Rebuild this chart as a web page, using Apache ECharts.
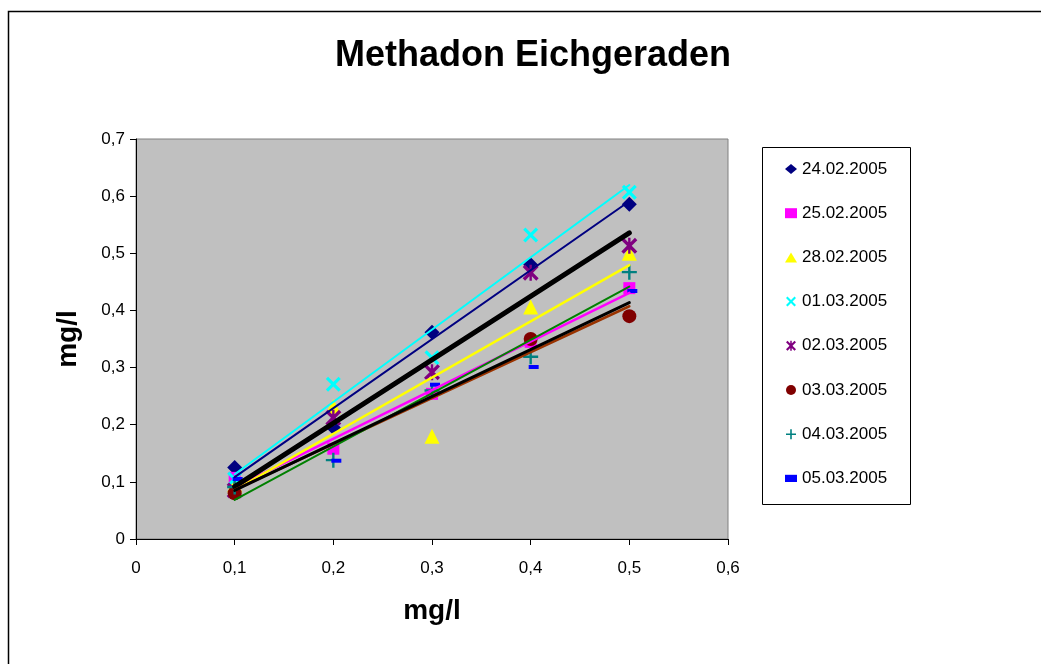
<!DOCTYPE html>
<html>
<head>
<meta charset="utf-8">
<script src="https://cdn.jsdelivr.net/npm/echarts@6/dist/echarts.min.js"></script>
<style>
  html, body { margin: 0; padding: 0; background: #ffffff; }
  #chart { width: 1041px; height: 664px; }
</style>
</head>
<body>
<div id="chart"></div>
<script>
// Concentrations of the calibration standards (mg/l)
const concentrations = [0.1, 0.2, 0.3, 0.4, 0.5];

// Measured values (mg/l) per calibration day; null = no measurement
const seriesNames = ['24.02.2005', '25.02.2005', '28.02.2005', '01.03.2005',
                     '02.03.2005', '03.03.2005', '04.03.2005', '05.03.2005'];
const day240205 = [0.125, 0.195, 0.362, 0.480, 0.586];
const day250205 = [0.107, 0.158, 0.254, 0.345, 0.439];
const day280205 = [0.095, 0.232, 0.180, 0.406, 0.500];
const day010305 = [0.105, 0.271, 0.317, 0.532, 0.607];
const day020305 = [0.085, 0.212, 0.292, 0.466, 0.513];
const day030305 = [0.080, null, null, 0.350, 0.390];
const day040305 = [0.091, 0.138, 0.260, 0.319, 0.467];
const day050305 = [0.105, 0.137, 0.270, 0.301, 0.434];
const measurements = [day240205, day250205, day280205, day010305,
                      day020305, day030305, day040305, day050305];

// Axis tick labels (decimal comma)
const xTickLabels = ['0', '0,1', '0,2', '0,3', '0,4', '0,5', '0,6'];
const yTickLabels = ['0', '0,1', '0,2', '0,3', '0,4', '0,5', '0,6', '0,7'];

const FONT = "'Liberation Sans', Arial, sans-serif";

// Marker shapes
const X_PATH = 'path://M0,1.5L1.5,0L5,3.5L8.5,0L10,1.5L6.5,5L10,8.5L8.5,10L5,6.5L1.5,10L0,8.5L3.5,5Z';
const STAR_PATH = 'path://M0,1.5L1.5,0L5,3.5L8.5,0L10,1.5L6.5,5L10,8.5L8.5,10L5,6.5L1.5,10L0,8.5L3.5,5Z' +
                  'M4.25,0L5.75,0L5.75,10L4.25,10Z';
const PLUS_PATH = 'path://M4.2,0H5.8V4.2H10V5.8H5.8V10H4.2V5.8H0V4.2H4.2Z';
const DASH_PATH = 'path://M0,0H10V4H0Z';

const markerStyles = [
  { symbol: 'diamond',  size: 15, color: '#000080' },
  { symbol: 'rect',     size: 12, color: '#ff00ff' },
  { symbol: 'triangle', size: 15, color: '#ffff00' },
  { symbol: X_PATH,     size: 15, color: '#00ffff' },
  { symbol: STAR_PATH,  size: 16, color: '#800080' },
  { symbol: 'circle',   size: 14, color: '#800000' },
  { symbol: PLUS_PATH,  size: 15, color: '#008080' },
  { symbol: DASH_PATH,  size: [10, 4], color: '#0000ff', offset: [3, 0] }
];

// Linear trend line of every day
const trendStyles = [
  { color: '#000080', width: 2 },
  { color: '#ff00ff', width: 2.5 },
  { color: '#ffff00', width: 2.5 },
  { color: '#00ffff', width: 2 },
  { color: '#000000', width: 5 },
  { color: '#993300', width: 2.5 },
  { color: '#008000', width: 2 },
  { color: '#000000', width: 3 }
];

// Least-squares line through the available points
function linearFit(xs, ys) {
  const pts = xs.map((x, i) => [x, ys[i]]).filter(p => p[1] !== null);
  const n = pts.length;
  const mx = pts.reduce((a, p) => a + p[0], 0) / n;
  const my = pts.reduce((a, p) => a + p[1], 0) / n;
  let sxy = 0, sxx = 0;
  pts.forEach(p => {
    sxy += (p[0] - mx) * (p[1] - my);
    sxx += (p[0] - mx) * (p[0] - mx);
  });
  const slope = sxy / sxx;
  return { slope: slope, intercept: my - slope * mx };
}

const scatterSeries = measurements.map((ys, i) => {
  const m = markerStyles[i];
  return {
    name: seriesNames[i],
    type: 'scatter',
    symbol: m.symbol,
    symbolSize: m.size,
    symbolOffset: m.offset || [0, 0],
    symbolKeepAspect: false,
    itemStyle: { color: m.color, opacity: 1 },
    z: 2,
    data: concentrations
      .map((x, k) => [x, ys[k]])
      .filter(p => p[1] !== null)
  };
});

const trendSeries = measurements.map((ys, i) => {
  const f = linearFit(concentrations, ys);
  const x0 = concentrations[0];
  const x1 = concentrations[concentrations.length - 1];
  return {
    name: 'Trend ' + seriesNames[i],
    type: 'line',
    symbol: 'none',
    silent: true,
    z: 3,
    lineStyle: { color: trendStyles[i].color, width: trendStyles[i].width, cap: 'round' },
    data: [[x0, f.intercept + f.slope * x0], [x1, f.intercept + f.slope * x1]]
  };
});

const legendIcons = markerStyles.map(m => (m.symbol === DASH_PATH ? 'path://M0,0H10V6H0Z' : m.symbol));

const chart = echarts.init(document.getElementById('chart'), null, { renderer: 'canvas' });

chart.setOption({
  animation: false,
  backgroundColor: '#ffffff',
  textStyle: { fontFamily: FONT },
  title: {
    text: 'Methadon Eichgeraden',
    left: 330,
    top: 33,
    textStyle: { fontFamily: FONT, fontSize: 36, fontWeight: 'bold', color: '#000000' }
  },
  grid: {
    left: 136, right: 313, top: 139, bottom: 125,
    show: true,
    backgroundColor: '#c0c0c0',
    borderColor: '#808080',
    borderWidth: 1
  },
  xAxis: {
    type: 'value',
    min: 0, max: 0.6, interval: 0.1,
    name: 'mg/l',
    nameLocation: 'middle',
    nameGap: 58,
    nameTextStyle: { fontFamily: FONT, fontSize: 28, fontWeight: 'bold', color: '#000000' },
    axisLine: { show: true, onZero: false, lineStyle: { color: '#000000', width: 1 } },
    axisTick: { show: true, inside: false, length: 6, lineStyle: { color: '#000000' } },
    axisLabel: {
      margin: 21,
      fontFamily: FONT, fontSize: 17, color: '#000000',
      formatter: v => xTickLabels[Math.round(v * 10)]
    },
    splitLine: { show: false }
  },
  yAxis: {
    type: 'value',
    min: 0, max: 0.7, interval: 0.1,
    name: 'mg/l',
    nameLocation: 'middle',
    nameGap: 54,
    nameRotate: 90,
    nameTextStyle: { fontFamily: FONT, fontSize: 28, fontWeight: 'bold', color: '#000000' },
    axisLine: { show: true, onZero: false, lineStyle: { color: '#000000', width: 1 } },
    axisTick: { show: true, inside: false, length: 6, lineStyle: { color: '#000000' } },
    axisLabel: {
      margin: 11,
      fontFamily: FONT, fontSize: 17, color: '#000000',
      formatter: v => yTickLabels[Math.round(v * 10)]
    },
    splitLine: { show: false }
  },
  legend: {
    orient: 'vertical',
    left: 785,
    top: 159,
    padding: 0,
    itemWidth: 12,
    itemHeight: 10,
    itemGap: 24.2,
    selectedMode: false,
    symbolKeepAspect: true,
    textStyle: { fontFamily: FONT, fontSize: 17, color: '#000000', lineHeight: 20 },
    data: seriesNames.map((n, i) => ({ name: n, icon: legendIcons[i] }))
  },
  graphic: [
    {
      type: 'rect',
      z: -10,
      silent: true,
      shape: { x: 8.5, y: 11.5, width: 1100, height: 1000 },
      style: { fill: 'none', stroke: '#000000', lineWidth: 1.5 }
    },
    {
      type: 'rect',
      z: 10,
      silent: true,
      shape: { x: 762.5, y: 147.5, width: 148, height: 357 },
      style: { fill: 'none', stroke: '#000000', lineWidth: 1 }
    }
  ],
  series: scatterSeries.concat(trendSeries)
});
</script>
</body>
</html>
